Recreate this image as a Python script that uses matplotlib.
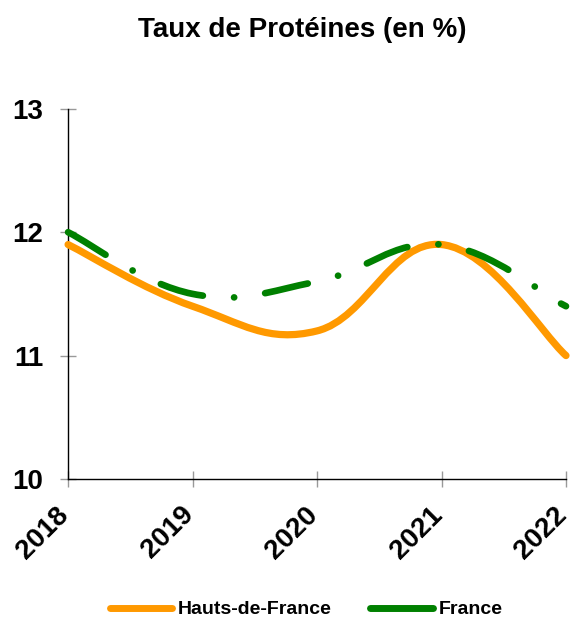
import numpy as np
import matplotlib
matplotlib.use('Agg')
import matplotlib.pyplot as plt
import matplotlib.transforms as mtransforms
from matplotlib.path import Path
from matplotlib.patches import PathPatch
from matplotlib.lines import Line2D

#---data
years = [2018, 2019, 2020, 2021, 2022]
hdf = [11.9, 11.4, 11.2, 11.9, 11.0]      # Hauts-de-France
france = [12.0, 11.5, 11.6, 11.9, 11.4]   # France

plt.rcParams['font.family'] = ['Liberation Sans', 'DejaVu Sans']
plt.rcParams['font.weight'] = 'bold'
plt.rcParams['lines.scale_dashes'] = False


def spline_path(xs, ys, t=0.4):
    # smooth bezier through the points (Chart.js style spline)
    pts = np.column_stack([xs, ys]).astype(float)
    n = len(pts)
    verts = [pts[0]]
    codes = [Path.MOVETO]
    cps = []
    for i in range(n):
        prev = pts[max(i - 1, 0)]
        nxt = pts[min(i + 1, n - 1)]
        if i == 0:
            cps.append((None, pts[i] + t * (nxt - pts[i]) * 0.5))
        elif i == n - 1:
            cps.append((pts[i] - t * (pts[i] - prev) * 0.5, None))
        else:
            cps.append((pts[i] - t / 2 * (nxt - prev), pts[i] + t / 2 * (nxt - prev)))
    for i in range(n - 1):
        verts += [cps[i][1], cps[i + 1][0], pts[i + 1]]
        codes += [Path.CURVE4] * 3
    return Path(verts, codes)


fig = plt.figure(figsize=(5.72, 6.22), dpi=100)
ax = fig.add_axes([0.119, 0.23, 0.8705, 0.595])

ax.set_xlim(2018, 2022)
ax.set_ylim(10, 13)

p1 = PathPatch(spline_path(years, hdf), fill=False, edgecolor='#ff9900', lw=5.2,
               capstyle='round', joinstyle='round', clip_on=False, zorder=3)
ax.add_patch(p1)
p2 = PathPatch(spline_path(years, france), fill=False, edgecolor='#008000', lw=4.8,
               capstyle='round', joinstyle='round', clip_on=False, zorder=4,
               linestyle=(0, (31.5, 22.5, 0.1, 22.5)))
ax.add_patch(p2)

ax.spines['top'].set_visible(False)
ax.spines['right'].set_visible(False)
ax.spines['left'].set_linewidth(1.0)
ax.spines['bottom'].set_linewidth(1.0)

ax.set_yticks([10, 11, 12, 13])
ax.set_xticks(years)
ax.set_xticklabels([str(y) for y in years], rotation=45, ha='right',
                   rotation_mode='anchor')
ax.tick_params(axis='both', direction='inout', length=12, color='#999999',
               width=1.0, labelsize=20)
ax.tick_params(axis='y', pad=12)
ax.tick_params(axis='x', pad=6)
shift = mtransforms.ScaledTranslation(-12 / 100, -6 / 100, fig.dpi_scale_trans)
for lab in ax.get_xticklabels():
    lab.set_transform(lab.get_transform() + shift)
for lab in ax.get_xticklabels() + ax.get_yticklabels():
    lab.set_fontweight('bold')

fig.text(0.529, 0.952, 'Taux de Protéines (en %)', ha='center', va='center',
         fontsize=20, fontweight='bold')

handles = [Line2D([], [], color='#ff9900', lw=5, solid_capstyle='round'),
           Line2D([], [], color='#008000', lw=5, solid_capstyle='round')]
fig.legend(handles, ['Hauts-de-France', 'France'], loc='center',
           bbox_to_anchor=(0.535, 0.02), ncol=2, frameon=False,
           prop={'size': 14, 'weight': 'bold'}, handlelength=3.2,
           handletextpad=0.3, columnspacing=2.0)

fig.savefig('out.png', dpi=100)
